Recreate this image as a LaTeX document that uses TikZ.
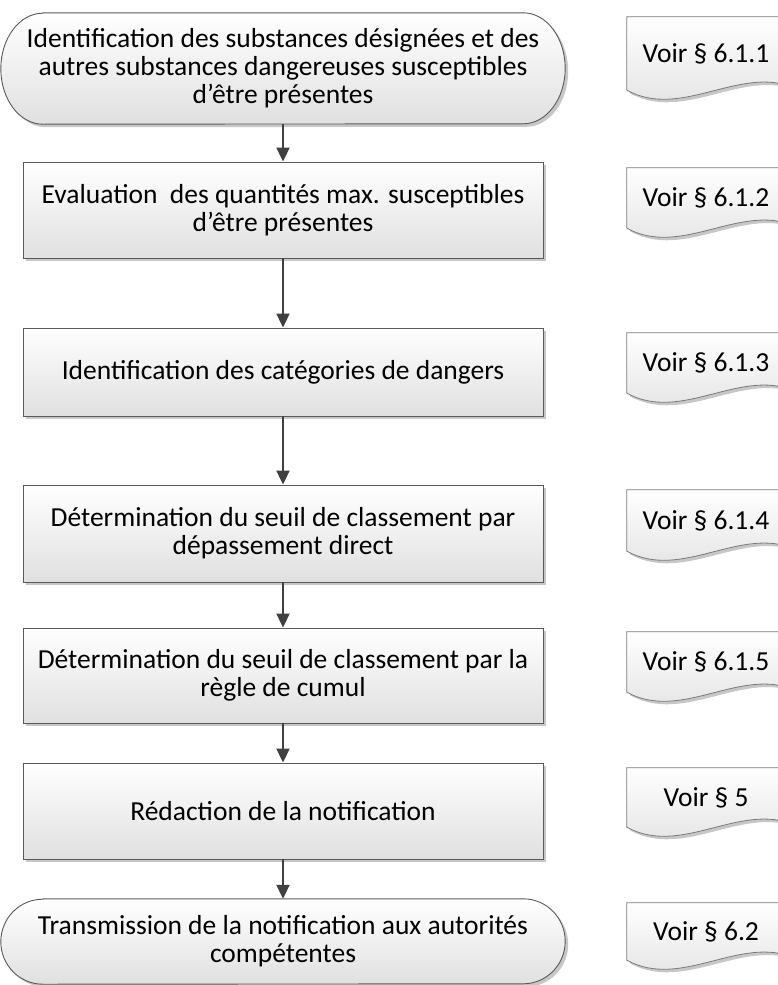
\documentclass[tikz,border=0pt]{standalone}
\usepackage{fontspec}
\setmainfont{Carlito}
\usetikzlibrary{shadows,backgrounds,arrows.meta}
\definecolor{linec}{HTML}{5A5A5A}
\definecolor{arrc}{HTML}{404040}
\definecolor{boxbot}{HTML}{E0E0E0}
\newcommand\mfont{\fontsize{27.5}{28}\selectfont}
\tikzset{
  shad/.style={drop shadow={shadow xshift=3pt, shadow yshift=-3pt, fill=black, opacity=0.22}},
  proc/.style={draw=linec, line width=0.9pt, top color=white, bottom color=boxbot,
    minimum width=520pt, inner sep=0pt, align=center, font=\mfont, shad},
  termtext/.style={minimum width=564pt, inner sep=0pt, align=center, font=\mfont},
  termsty/.style={draw=linec, line width=0.9pt, top color=white, bottom color=boxbot, shad},
  doctext/.style={minimum width=158pt, inner sep=0pt, align=center, font=\mfont},
  docsty/.style={draw=linec!80, line width=0.8pt, top color=white, bottom color=boxbot, shad},
  flow/.style={draw=arrc, line width=2pt, -{Triangle[length=14pt,width=13pt]}},
}
% #1 node name, #2 half height
\newcommand\termshape[2]{%
  \path[termsty] ([xshift=42pt]#1.north west) -- ([xshift=-42pt]#1.north east)
    arc[start angle=90, end angle=-90, x radius=42pt, y radius=#2]
    -- ([xshift=42pt]#1.south west)
    arc[start angle=270, end angle=90, x radius=42pt, y radius=#2] -- cycle;}
\newcommand\docshape[1]{%
  \path[docsty] (#1.north west) -- ([xshift=10pt]#1.north east) -- ([xshift=10pt,yshift=2pt]#1.south east)
    .. controls ([xshift=-45pt,yshift=26pt]#1.south east) and ([xshift=55pt,yshift=-30pt]#1.south west)
    .. (#1.south west) -- cycle;}
\begin{document}
\begin{tikzpicture}[x=1pt,y=-1pt]
\useasboundingbox (0,0) rectangle (777,985);
\clip (0,0) rectangle (777,985);

% main flow
\node[termtext, minimum height=111pt] (b1) at (283,68.5)
  {Identification des substances désignées et des\\autres substances dangereuses susceptibles\\d’être présentes};
\node[proc, minimum height=96pt] (b2) at (283,210)
  {Evaluation\ \ des quantités max. susceptibles\\d’être présentes};
\node[proc, minimum height=88pt] (b3) at (283,372)
  {Identification des catégories de dangers};
\node[proc, minimum height=97pt] (b4) at (283,533.5)
  {Détermination du seuil de classement par\\dépassement direct};
\node[proc, minimum height=95pt] (b5) at (283,675.5)
  {Détermination du seuil de classement par la\\règle de cumul};
\node[proc, minimum height=96pt] (b6) at (283,811)
  {Rédaction de la notification};
\node[termtext, minimum height=85pt] (b7) at (283,941.5)
  {Transmission de la notification aux autorités\\compétentes};

% references
\node[doctext, minimum height=73pt] (d1) at (706,53.5) {Voir § 6.1.1};
\node[doctext, minimum height=60pt] (d2) at (706,198) {Voir § 6.1.2};
\node[doctext, minimum height=60pt] (d3) at (706,363) {Voir § 6.1.3};
\node[doctext, minimum height=61pt] (d4) at (706,520.5) {Voir § 6.1.4};
\node[doctext, minimum height=60pt] (d5) at (706,662) {Voir § 6.1.5};
\node[doctext, minimum height=59pt] (d6) at (706,797.5) {Voir § 5};
\node[doctext, minimum height=57pt] (d7) at (706,931.5) {Voir § 6.2};

\begin{scope}[on background layer]
  \termshape{b1}{55.5pt}
  \termshape{b7}{42.5pt}
  \docshape{d1}\docshape{d2}\docshape{d3}\docshape{d4}\docshape{d5}\docshape{d6}\docshape{d7}
\end{scope}

\draw[flow] (b1) -- (b2);
\draw[flow] (b2) -- (b3);
\draw[flow] (b3) -- (b4);
\draw[flow] (b4) -- (b5);
\draw[flow] (b5) -- (b6);
\draw[flow] (b6) -- (b7);
\end{tikzpicture}
\end{document}
